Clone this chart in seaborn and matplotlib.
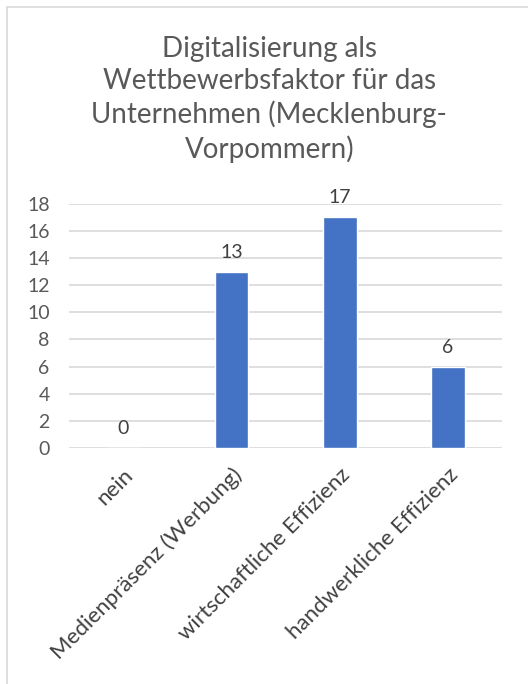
import matplotlib
matplotlib.use("Agg")
import matplotlib.pyplot as plt
import seaborn as sns
import pandas as pd
from matplotlib.lines import Line2D

categories = ["nein", "Medienpräsenz (Werbung)", "wirtschaftliche Effizienz", "handwerkliche Effizienz"]
values = [0, 13, 17, 6]
yticks = [0, 2, 4, 6, 8, 10, 12, 14, 16, 18]
title = "Digitalisierung als\nWettbewerbsfaktor für das\nUnternehmen (Mecklenburg-\nVorpommern)"

sns.set_theme(style="white")
plt.rcParams['font.family'] = ['Lato', 'DejaVu Sans']

df = pd.DataFrame({"cat": categories, "val": values})

fig = plt.figure(figsize=(5.28, 6.84), dpi=100)
ax = fig.add_axes([0.131, 0.345, 0.820, 0.357])

sns.barplot(data=df, x="cat", y="val", color="#4472C4", width=0.31, ax=ax, saturation=1)

ax.set_ylim(0, 18)
ax.set_yticks(yticks)
ax.set_yticklabels([str(t) for t in yticks], fontsize=14, color="#595959")
ax.yaxis.grid(True, color="#d9d9d9", linewidth=1.2)
ax.set_axisbelow(True)
for s in ax.spines.values():
    s.set_visible(False)
ax.tick_params(axis="both", length=0)
ax.tick_params(axis="y", pad=14)
ax.set_xlabel("")
ax.set_ylabel("")
ax.set_xticks(range(len(categories)))
ax.set_xticklabels(categories, rotation=45, ha="right", rotation_mode="anchor",
                   fontsize=16, color="#404040")
ax.tick_params(axis="x", pad=12)
ax.set_xlim(-0.5, 3.5)

for i, v in enumerate(values):
    ax.annotate(str(v), (i, v), xytext=(0, 8), textcoords="offset points",
                ha="center", va="bottom", fontsize=14, color="#404040")

fig.text(0.51, 0.948, title, ha="center", va="top", fontsize=20,
         color="#595959", linespacing=1.3)

fig.add_artist(Line2D([7/528, 7/528], [0, 1 - 7/684], color="#d9d9d9", lw=1.2, transform=fig.transFigure))
fig.add_artist(Line2D([7/528, 1], [1 - 7/684, 1 - 7/684], color="#d9d9d9", lw=1.2, transform=fig.transFigure))

fig.savefig("out.png", dpi=100)
